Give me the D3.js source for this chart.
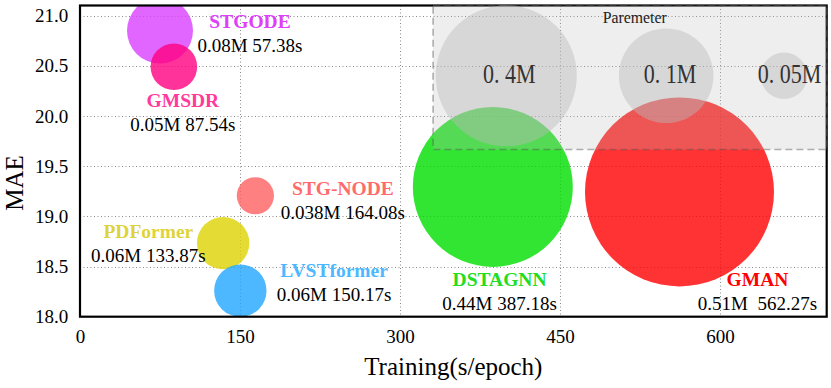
<!DOCTYPE html>
<html>
<head>
<meta charset="utf-8">
<script src="https://cdn.jsdelivr.net/npm/d3@7"></script>
<style>
  body { margin: 0; background: #fff; }
  svg { display: block; font-family: "Liberation Serif", "Times New Roman", serif; }
</style>
</head>
<body>
<svg id="chart" width="831" height="388"></svg>
<script>
"use strict";

// data
var models   = ["STGODE", "GMSDR", "STG-NODE", "PDFormer", "LVSTformer", "DSTAGNN", "GMAN"];
var trainPos = [75, 88, 164.4, 134.2, 150.3, 387, 562];        // bubble x (s/epoch)
var maePos   = [20.85, 20.49, 19.205, 18.733, 18.26, 19.293, 19.243];
var params   = [0.08, 0.05, 0.038, 0.06, 0.06, 0.44, 0.51];    // M
var details  = ["0.08M 57.38s", "0.05M 87.54s", "0.038M 164.08s", "0.06M 133.87s",
                "0.06M 150.17s", "0.44M 387.18s", "0.51M  562.27s"];
var legendParams = [0.4, 0.1, 0.05];
var legendLabels = ["0. 4M", "0. 1M", "0. 05M"];
var xTicks = [0, 150, 300, 450, 600];
var yTicks = [18.0, 18.5, 19.0, 19.5, 20.0, 20.5, 21.0];

// styling
var fillColors = ["#d840ff", "#ff0080", "#ff6060", "#ddd303", "#20a6ff", "#00de00", "#ff0000"];
var textColors = ["#dd40f8", "#ff3a9c", "#ff6b6b", "#ded43a", "#4db8ff", "#22dd22", "#ff0000"];
// label centre offsets from bubble centre (px): [dx, name baseline dy]
var labelOffset = [[90, -2.5], [9, 40], [87.5, -1], [-74.8, -5.6], [93.8, -13.8], [6.7, 99.5], [78, 94.5]];

var svg = d3.select("#chart");
var plotL = 80, plotR = 826.7, plotT = 5.5, plotB = 316.7;

var x = d3.scaleLinear().domain([0, 700]).range([plotL, plotR]);
var y = d3.scaleLinear().domain([18, 21.1]).range([plotB, plotT]);
// bubble size (the figure's sizes are not a clean function of params)
var r = d3.scaleLinear()
  .domain([0.038, 0.05, 0.06, 0.08, 0.1, 0.4, 0.44, 0.51])
  .range([18.6, 23.3, 26.2, 33, 47.3, 70.5, 80, 94.5]);

svg.append("defs").append("clipPath").attr("id", "plotclip")
  .append("rect")
  .attr("x", plotL).attr("y", plotT)
  .attr("width", plotR - plotL).attr("height", plotB - plotT);

// grid
var grid = svg.append("g").attr("class", "grid")
  .style("stroke", "#888").style("stroke-width", 1).style("stroke-dasharray", "1,2.5");
grid.selectAll(".vg").data(xTicks.filter(function(d) { return d > 0; }))
  .enter().append("line")
  .attr("x1", function(d) { return Math.round(x(d)) + 0.5; })
  .attr("x2", function(d) { return Math.round(x(d)) + 0.5; })
  .attr("y1", plotT).attr("y2", plotB);
grid.selectAll(".hg").data(yTicks.filter(function(d) { return d > 18; }))
  .enter().append("line")
  .attr("y1", function(d) { return Math.round(y(d)) + 0.5; })
  .attr("y2", function(d) { return Math.round(y(d)) + 0.5; })
  .attr("x1", plotL).attr("x2", plotR);

// bubbles
var rows = models.map(function(m, i) {
  return {name: m, t: trainPos[i], mae: maePos[i], p: params[i], detail: details[i],
          fill: fillColors[i], tc: textColors[i], off: labelOffset[i]};
});

svg.append("g").attr("clip-path", "url(#plotclip)")
  .selectAll("circle").data(rows)
  .enter().append("circle")
  .attr("cx", function(d) { return x(d.t); })
  .attr("cy", function(d) { return y(d.mae); })
  .attr("r", function(d) { return r(d.p); })
  .attr("fill", function(d) { return d.fill; })
  .attr("fill-opacity", 0.8);

// frame
svg.append("rect")
  .attr("x", plotL).attr("y", plotT)
  .attr("width", plotR - plotL).attr("height", plotB - plotT)
  .attr("fill", "none").attr("stroke", "#000").attr("stroke-width", 2.2);

// axes
var xAxis = svg.append("g")
  .attr("transform", "translate(0," + plotB + ")")
  .call(d3.axisBottom(x).tickValues(xTicks).tickSize(0).tickPadding(13.3).tickFormat(d3.format("d")));
var yAxis = svg.append("g")
  .attr("transform", "translate(" + plotL + ",0)")
  .call(d3.axisLeft(y).tickValues(yTicks).tickSize(0).tickPadding(11.7).tickFormat(d3.format(".1f")));
[xAxis, yAxis].forEach(function(a) {
  a.select(".domain").remove();
  a.selectAll("text")
    .attr("font-family", "Liberation Serif, serif")
    .attr("font-size", 19).attr("fill", "#000");
});

svg.append("text")
  .attr("x", (plotL + plotR) / 2).attr("y", 375)
  .attr("text-anchor", "middle").attr("font-size", 25)
  .text("Training(s/epoch)");
svg.append("text")
  .attr("transform", "translate(22.7,183) rotate(-90)")
  .attr("text-anchor", "middle").attr("font-size", 25)
  .text("MAE");

// parameter legend box (drawn over the bubbles, semi transparent)
var legX0 = 331, legY0 = 19.665;
var legend = svg.append("g");
legend.append("rect")
  .attr("x", x(legX0)).attr("y", plotT)
  .attr("width", plotR - x(legX0)).attr("height", y(legY0) - plotT)
  .attr("fill", "#bbbbbb").attr("fill-opacity", 0.25)
  .attr("stroke", "#555").attr("stroke-opacity", 0.45)
  .attr("stroke-width", 1.6).attr("stroke-dasharray", "7,4");

legend.append("text")
  .attr("x", x(520)).attr("y", 23.3)
  .attr("text-anchor", "middle").attr("font-size", 15.8).attr("fill", "#222")
  .text("Paremeter");

var legCx = [399.6, 549.5, 660];
var legItems = legendParams.map(function(p, i) {
  return {p: p, label: legendLabels[i], cx: x(legCx[i])};
});
legend.selectAll(".lc").data(legItems)
  .enter().append("circle")
  .attr("cx", function(d) { return d.cx; })
  .attr("cy", y(20.4))
  .attr("r", function(d) { return r(d.p); })
  .attr("fill", "#bbbbbb").attr("fill-opacity", 0.45);
// tall, narrow look of the original labels: stretch vertically
legend.selectAll(".lt").data(legItems)
  .enter().append("g")
  .attr("transform", function(d, i) {
    return "translate(" + [509.2, 670, 789.5][i] + ",82.7) scale(1,1.25)";
  })
  .append("text")
  .attr("text-anchor", "middle")
  .attr("font-family", "Liberation Serif, serif")
  .attr("font-size", 22).attr("fill", "#333")
  .style("white-space", "pre")
  .text(function(d) { return d.label; });

// bubble labels
var labels = svg.append("g");
rows.forEach(function(d) {
  var cx = x(d.t) + d.off[0], by = y(d.mae) + d.off[1];
  labels.append("text")
    .attr("x", cx).attr("y", by)
    .attr("text-anchor", "middle")
    .attr("font-weight", "bold").attr("font-size", 19.5)
    .attr("fill", d.tc)
    .text(d.name);
  labels.append("text")
    .attr("x", cx).attr("y", by + 24)
    .attr("text-anchor", "middle")
    .attr("font-size", 19).attr("fill", "#000")
    .style("white-space", "pre")
    .text(d.detail);
});
</script>
</body>
</html>
